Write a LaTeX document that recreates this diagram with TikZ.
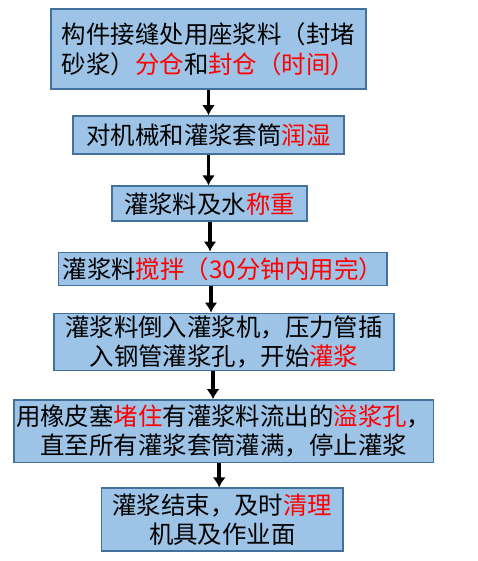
\documentclass[tikz,border=0pt]{standalone}
\usepackage{fontspec}
\setmainfont{Noto Sans CJK SC}
\usepackage{xcolor}
\usepackage{tikz}
\usetikzlibrary{arrows.meta}
\usetikzlibrary{positioning}
\definecolor{BoxFill}{RGB}{157,195,230}
\definecolor{BoxLine}{RGB}{65,113,156}
\definecolor{KeyRed}{RGB}{255,0,0}
\newcommand{\rd}[1]{\textcolor{KeyRed}{#1}}
\begin{document}
\begin{tikzpicture}[
x=0.02cm, y=-0.02cm,
StepBox/.style={draw=BoxLine,fill=BoxFill,line width=0.9pt,inner sep=0pt,align=center,
  font=\fontsize{13.9}{16.6}\selectfont},
FlowArrow/.style={-{Latex[length=2mm, width=2.6mm]}, line width=2.1pt, black}
]
\useasboundingbox (0,0) rectangle (477,561);

% steps, top to bottom
\node[StepBox, minimum width=6.30cm, minimum height=1.60cm] (S1) at (208.5,49.2)
  {构件接缝处用座浆料（封堵\\砂浆）\rd{分仓}和\rd{封仓（时间）}};
\node[StepBox, minimum width=5.42cm, minimum height=0.76cm] (S2) at (208.5,135)
  {对机械和灌浆套筒\rd{润湿}};
\node[StepBox, minimum width=3.90cm, minimum height=0.70cm] (S3) at (209.5,203.7)
  {灌浆料及水\rd{称重}};
\node[StepBox, minimum width=6.58cm, minimum height=0.66cm] (S4) at (222.8,268.8)
  {灌浆料\rd{搅拌（30分钟内用完）}};
\node[StepBox, minimum width=6.79cm, minimum height=1.14cm] (S5) at (224,341.8)
  {灌浆料倒入灌浆机，压力管插\\入钢管灌浆孔，开始\rd{灌浆}};
\node[StepBox, minimum width=8.39cm, minimum height=1.25cm] (S6) at (223.7,431.2)
  {用橡皮塞\rd{堵住}有灌浆料流出的\rd{溢浆孔}，\\直至所有灌浆套筒灌满，停止灌浆};
\node[StepBox, minimum width=4.84cm, minimum height=1.25cm] (S7) at (222.3,519.5)
  {灌浆结束，及时\rd{清理}\\机具及作业面};

\draw[FlowArrow] (S1.south) -- (S2.north);
\draw[FlowArrow] (S2.south) -- (S2.south |- S3.north);
\draw[FlowArrow] ([xshift=0.01cm]S3.south) -- ([xshift=0.01cm]S3.south |- S4.north);
\draw[FlowArrow] ([xshift=-2.36mm]S4.south) -- ([xshift=-2.36mm]S4.south |- S5.north);
\draw[FlowArrow] ([xshift=-2.2mm]S5.south) -- ([xshift=-2.2mm]S5.south |- S6.north);
\draw[FlowArrow] ([xshift=-0.9mm]S6.south) -- ([xshift=-0.9mm]S6.south |- S7.north);

\end{tikzpicture}
\end{document}
